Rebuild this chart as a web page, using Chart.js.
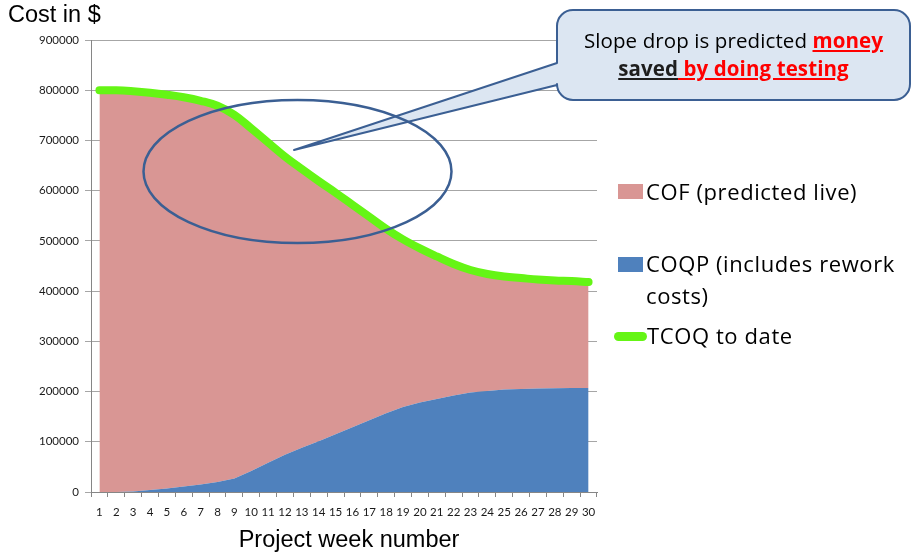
<!DOCTYPE html>
<html><head><meta charset="utf-8">
<script src="https://cdn.jsdelivr.net/npm/chart.js@4.4.0/dist/chart.umd.min.js"></script>
<style>
html,body{margin:0;padding:0;background:#fff;}
#wrap{position:relative;width:912px;height:556px;overflow:hidden;background:#fff;}
#c{position:absolute;left:0;top:0;}
.t{position:absolute;white-space:nowrap;color:#000;}
.ax{font-family:"Liberation Sans",Arial,sans-serif;font-size:23.5px;line-height:1;}
.lg{font-family:"Open Sans",Lato,sans-serif;font-size:22px;line-height:1.2;letter-spacing:0.6px;}
.mk{position:absolute;}
#callout{position:absolute;left:557px;top:10px;width:353px;height:90px;text-align:center;
 font-family:"Open Sans",Lato,sans-serif;font-size:20.5px;letter-spacing:0.1px;line-height:28px;padding-top:16.2px;box-sizing:border-box;color:#000;}
#callout b{text-decoration:underline;text-decoration-thickness:2px;text-underline-offset:2px;}
.red{color:#ff0000;}
.dk{color:#1e1e1e;}
</style></head><body>
<div id="wrap">
<canvas id="c" width="912" height="556"></canvas>
<div class="t ax" id="ytitle" style="left:8px;top:3px;">Cost in $</div>
<div class="t ax" id="xtitle" style="left:349px;top:528px;transform:translateX(-50%);">Project week number</div>
<div class="mk" style="left:618px;top:184px;width:25px;height:15px;background:#d99694;"></div>
<div class="t lg" style="left:646px;top:177.6px;">COF (predicted live)</div>
<div class="mk" style="left:618px;top:257px;width:25px;height:15px;background:#4f81bd;"></div>
<div class="t lg" style="left:646px;top:250px;">COQP (includes rework</div>
<div class="t lg" style="left:646px;top:281.6px;">costs)</div>
<div class="mk" style="left:614px;top:331.5px;width:33px;height:9px;border-radius:5px;background:#65f515;"></div>
<div class="t lg" style="left:647px;top:322.3px;">TCOQ to date</div>
<div id="callout">Slope drop is predicted <b class="red">money</b><br><b class="dk">saved</b><b class="red"> by doing testing</b></div>
</div>
<script>
const weeks = ['1','2','3','4','5','6','7','8','9','10','11','12','13','14','15','16','17','18','19','20','21','22','23','24','25','26','27','28','29','30'];
const coqp = [0,0,1000,4000,7000,11000,15000,20000,27000,42000,58000,74000,88000,101000,115000,129000,143000,157000,169000,178000,185000,192000,198000,201000,204000,205000,206000,206500,207000,207000];
const cof = [800000,800000,797000,791000,784000,775000,764000,749000,724000,682000,638000,594000,555000,518000,481000,443000,405000,367000,334000,307000,284000,262000,244000,233000,225000,221000,217000,214500,213000,211000];
const tcoq = [800000,800000,798000,795000,791000,786000,779000,769000,751000,724000,696000,668000,643000,619000,596000,572000,548000,524000,503000,485000,469000,454000,442000,434000,429000,426000,423000,421000,420000,418000];
const yTickLabels = ['0','100000','200000','300000','400000','500000','600000','700000','800000','900000'];

const annot = {
  id:'annot',
  afterDraw(chart){
    const ctx = chart.ctx;
    ctx.save();
    const L=557,T=10,R=910,B=100,r=16;
    ctx.beginPath();
    ctx.moveTo(L+r,T);
    ctx.lineTo(R-r,T); ctx.arcTo(R,T,R,T+r,r);
    ctx.lineTo(R,B-r); ctx.arcTo(R,B,R-r,B,r);
    ctx.lineTo(L+r,B); ctx.arcTo(L,B,L,B-r,r);
    ctx.lineTo(L,85); ctx.lineTo(294,150); ctx.lineTo(L,63);
    ctx.lineTo(L,T+r); ctx.arcTo(L,T,L+r,T,r);
    ctx.closePath();
    ctx.fillStyle='#dce6f2'; ctx.fill();
    ctx.strokeStyle='#3b5f93'; ctx.lineWidth=2; ctx.lineJoin='round'; ctx.stroke();
    ctx.beginPath();
    ctx.ellipse(297.5,171.5,154,71.5,0,0,Math.PI*2);
    ctx.strokeStyle='#3b5f93'; ctx.lineWidth=2.5; ctx.stroke();
    ctx.restore();
  }
};

const tickFont = {family:'Lato', size:11.5};
new Chart(document.getElementById('c'), {
  type:'line',
  data:{
    labels: weeks,
    datasets:[
      {label:'TCOQ to date', data:tcoq, stack:'total', borderColor:'#65f515', borderWidth:8,
       borderCapStyle:'round', borderJoinStyle:'round', tension:0.4, fill:false, pointRadius:0},
      {label:'COQP (includes rework costs)', data:coqp, stack:'parts', borderColor:'rgba(0,0,0,0)', borderWidth:0,
       backgroundColor:'#4f81bd', fill:'origin', tension:0, pointRadius:0},
      {label:'COF (predicted live)', data:cof, stack:'parts', borderColor:'rgba(0,0,0,0)', borderWidth:0,
       backgroundColor:'#d99694', fill:'-1', tension:0, pointRadius:0}
    ]
  },
  options:{
    responsive:false, animation:false,
    layout:{padding:{left:0,top:40,right:315,bottom:0}},
    plugins:{legend:{display:false}, tooltip:{enabled:false}},
    scales:{
      x:{offset:true,
         grid:{offset:true, drawOnChartArea:false, drawTicks:true, tickLength:5, color:'#868686'},
         border:{color:'#868686', width:1},
         ticks:{font:tickFont, color:'#1a1a1a', padding:8, maxRotation:0, autoSkip:false},
         afterFit(s){ s.height = 64; }},
      y:{stacked:true, min:0, max:900000,
         ticks:{stepSize:100000, font:tickFont, color:'#1a1a1a', padding:6,
                callback:(v,i)=>yTickLabels[i]},
         grid:{color:'#a6a6a6', tickLength:6, drawTicks:true},
         border:{color:'#868686', width:1},
         afterFit(s){ s.width = 91; }}
    }
  },
  plugins:[annot]
});
</script>
</body></html>
